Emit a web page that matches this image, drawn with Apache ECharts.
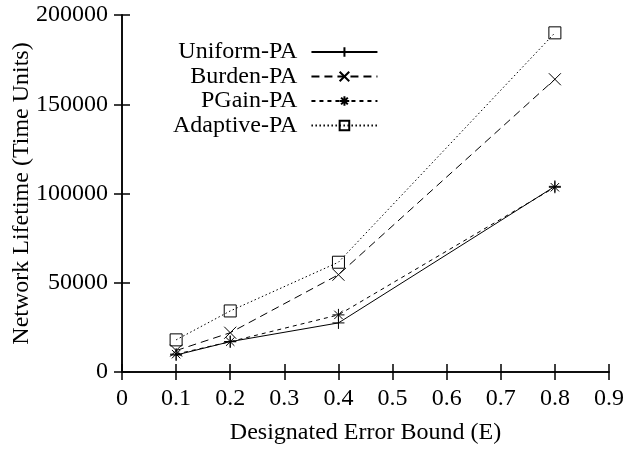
<!DOCTYPE html>
<html>
<head>
<meta charset="utf-8">
<script src="https://cdn.jsdelivr.net/npm/echarts@6/dist/echarts.min.js"></script>
<style>
  html, body { margin: 0; padding: 0; background: #fff; }
  #chart { width: 626px; height: 452px; }
</style>
</head>
<body>
<div id="chart"></div>
<script>
// error bound values (x) and lifetimes per scheme
const errorBounds = [0.1, 0.2, 0.4, 0.8];
const uniformPA = [9500, 17000, 27500, 104000];
const burdenPA = [12000, 22000, 54500, 164000];
const pgainPA = [10000, 17000, 32000, 103500];
const adaptivePA = [18000, 34200, 61500, 190000];
const seriesNames = ['Uniform-PA', 'Burden-PA', 'PGain-PA', 'Adaptive-PA'];

// marker shapes drawn as stroked paths
const plusPath = 'path://M0,5L10,5M5,0L5,10';
const crossPath = 'path://M0,0L10,10M10,0L0,10';
const starPath = 'path://M0,5L10,5M5,0L5,10M1.5,1.5L8.5,8.5M8.5,1.5L1.5,8.5';
const squarePath = 'path://M0,0L10,0L10,10L0,10Z';

const FONT = '"Liberation Serif", "DejaVu Serif", serif';
const FS = 24;

function pairs(vals) {
  return errorBounds.map((x, i) => [x, vals[i]]);
}

function mkSeries(name, vals, symbol, dash) {
  return {
    name: name,
    type: 'line',
    data: pairs(vals),
    symbol: symbol,
    symbolSize: 12,
    showAllSymbol: true,
    xAxisIndex: 0,
    yAxisIndex: 0,
    lineStyle: { color: '#000', width: 1, type: dash },
    itemStyle: { color: 'rgba(0,0,0,0)', borderColor: '#000', borderWidth: 1 },
    emphasis: { disabled: true },
    animation: false
  };
}

const chart = echarts.init(document.getElementById('chart'));

const axisCommon = {
  axisLine: { show: true, lineStyle: { color: '#000', width: 1.5 } },
  axisTick: { show: true, inside: true, length: 8, lineStyle: { color: '#000', width: 1.5 } },
  splitLine: { show: false }
};

chart.setOption({
  backgroundColor: '#fff',
  animation: false,
  textStyle: { fontFamily: FONT },
  grid: { left: 122, right: 17, top: 15, bottom: 80, containLabel: false, outerBoundsMode: 'none' },
  legend: {
    orient: 'vertical',
    left: 168,
    top: 35,
    itemGap: 0.5,
    itemWidth: 66,
    itemHeight: 12,
    align: 'right',
    selectedMode: false,
    data: seriesNames,
    textStyle: { fontFamily: FONT, fontSize: FS, lineHeight: 24, color: '#000', align: 'right', padding: [0, 9, 0, 0] }
  },
  xAxis: [
    Object.assign({
      type: 'value', min: 0, max: 0.9, interval: 0.1,
      position: 'bottom',
      name: 'Designated Error Bound (E)',
      nameLocation: 'middle',
      nameGap: 49,
      nameMoveOverlap: false,
      nameTextStyle: { fontFamily: FONT, fontSize: FS, color: '#000' },
      axisLabel: { fontFamily: FONT, fontSize: FS, color: '#000', margin: 15, formatter: v => String(+v.toFixed(1)) }
    }, axisCommon),
    Object.assign({
      type: 'value', min: 0, max: 0.9, interval: 0.1,
      position: 'top',
      axisLabel: { show: false }
    }, axisCommon)
  ],
  yAxis: [
    Object.assign({
      type: 'value', min: 0, max: 200000, interval: 50000,
      position: 'left',
      name: 'Network Lifetime (Time Units)',
      nameLocation: 'middle',
      nameGap: 88,
      nameMoveOverlap: false,
      nameTextStyle: { fontFamily: FONT, fontSize: FS, color: '#000' },
      axisLabel: { fontFamily: FONT, fontSize: FS, color: '#000', margin: 14, formatter: v => String(v) }
    }, axisCommon),
    Object.assign({
      type: 'value', min: 0, max: 200000, interval: 50000,
      position: 'right',
      axisLabel: { show: false }
    }, axisCommon)
  ],
  series: [
    mkSeries('Uniform-PA', uniformPA, plusPath, 'solid'),
    mkSeries('Burden-PA', burdenPA, crossPath, [8, 5]),
    mkSeries('PGain-PA', pgainPA, starPath, [4, 4]),
    mkSeries('Adaptive-PA', adaptivePA, squarePath, [1.5, 2.5])
  ]
});
</script>
</body>
</html>
